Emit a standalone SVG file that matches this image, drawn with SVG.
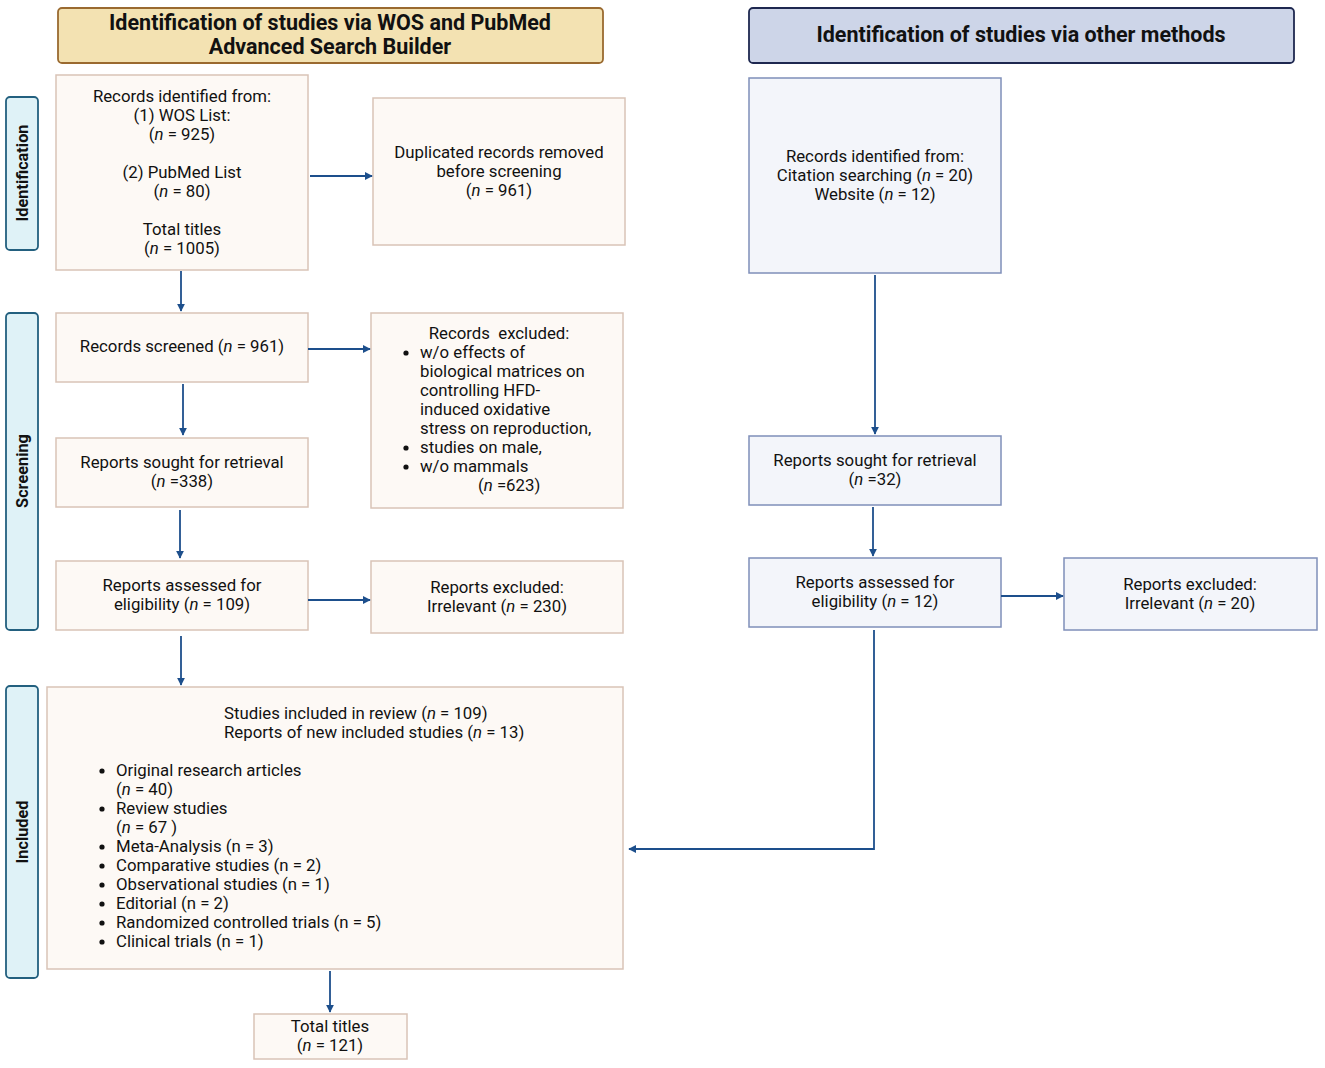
<svg xmlns="http://www.w3.org/2000/svg" width="1325" height="1068" viewBox="0 0 1325 1068">
<defs>
<marker id="ah" viewBox="0 0 10 10" refX="9" refY="5" markerWidth="8" markerHeight="8" markerUnits="userSpaceOnUse" orient="auto">
<path d="M0,0 L10,5 L0,10 z" fill="#1d4f8c"/>
</marker>
<style>
text{font-family:Roboto,"Liberation Sans",sans-serif;font-size:16.8px;fill:#111;}
.c{text-anchor:middle;}
.h{font-weight:bold;font-size:21.5px;text-anchor:middle;}
.s{font-weight:bold;font-size:16.3px;text-anchor:middle;}
.i{font-style:italic;}
.dot{fill:#111;}
.lb{fill:#fdf9f5;stroke:#d9c3b7;stroke-width:1.5;}
.rb{fill:#f3f5fa;stroke:#7f8fb9;stroke-width:1.5;}
.side{fill:#dff2f7;stroke:#23607f;stroke-width:1.8;}
.cn{fill:none;stroke:#1d4f8c;stroke-width:1.8;marker-end:url(#ah);}
</style>
</defs>
<rect width="1325" height="1068" fill="#fff"/>

<g id="header-left">
<rect x="58" y="8" width="545" height="55" rx="4" fill="#f3e2b2" stroke="#9a6a30" stroke-width="1.8"/>
<text class="h" x="330" y="30">Identification of studies via WOS and PubMed</text>
<text class="h" x="330" y="54">Advanced Search Builder</text>
</g>
<g id="header-right">
<rect x="749" y="8" width="545" height="55" rx="4" fill="#cdd5e8" stroke="#1e2850" stroke-width="1.8"/>
<text class="h" x="1021" y="42">Identification of studies via other methods</text>
</g>

<g id="side-identification">
<rect class="side" x="6" y="97" width="32" height="153" rx="4"/>
<text class="s" transform="translate(28,173) rotate(-90)">Identification</text>
</g>
<g id="side-screening">
<rect class="side" x="6" y="313" width="32" height="317" rx="4"/>
<text class="s" transform="translate(28,471) rotate(-90)">Screening</text>
</g>
<g id="side-included">
<rect class="side" x="6" y="686" width="32" height="292" rx="4"/>
<text class="s" transform="translate(28,832) rotate(-90)">Included</text>
</g>

<g id="records-identified">
<rect class="lb" x="56" y="75" width="252" height="195"/>
<text class="c" x="182" y="102">Records identified from:</text>
<text class="c" x="182" y="121">(1) WOS List:</text>
<text class="c" x="182" y="140">(<tspan class="i">n</tspan> = 925)</text>
<text class="c" x="182" y="178">(2) PubMed List</text>
<text class="c" x="182" y="197">(<tspan class="i">n</tspan> = 80)</text>
<text class="c" x="182" y="235">Total titles</text>
<text class="c" x="182" y="254">(<tspan class="i">n</tspan> = 1005)</text>
</g>

<g id="duplicates-removed">
<rect class="lb" x="373" y="98" width="252" height="147"/>
<text class="c" x="499" y="158">Duplicated records removed</text>
<text class="c" x="499" y="177">before screening</text>
<text class="c" x="499" y="196">(<tspan class="i">n</tspan> = 961)</text>
</g>

<g id="records-screened">
<rect class="lb" x="56" y="313" width="252" height="69"/>
<text class="c" x="182" y="352">Records screened (<tspan class="i">n</tspan> = 961)</text>
</g>

<g id="records-excluded">
<rect class="lb" x="371" y="313" width="252" height="195"/>
<text class="c" x="499" y="339" xml:space="preserve">Records  excluded:</text>
<circle class="dot" cx="406" cy="353" r="2.6"/><text x="420" y="358">w/o effects of</text>
<text x="420" y="377">biological matrices on</text>
<text x="420" y="396">controlling HFD-</text>
<text x="420" y="415">induced oxidative</text>
<text x="420" y="434">stress on reproduction,</text>
<circle class="dot" cx="406" cy="448" r="2.6"/><text x="420" y="453">studies on male,</text>
<circle class="dot" cx="406" cy="467" r="2.6"/><text x="420" y="472">w/o mammals</text>
<text x="478" y="491">(<tspan class="i">n</tspan> =623)</text>
</g>

<g id="reports-sought">
<rect class="lb" x="56" y="438" width="252" height="69"/>
<text class="c" x="182" y="468">Reports sought for retrieval</text>
<text class="c" x="182" y="487">(<tspan class="i">n</tspan> =338)</text>
</g>

<g id="reports-assessed">
<rect class="lb" x="56" y="561" width="252" height="69"/>
<text class="c" x="182" y="591">Reports assessed for</text>
<text class="c" x="182" y="610">eligibility (<tspan class="i">n</tspan> = 109)</text>
</g>

<g id="reports-excluded">
<rect class="lb" x="371" y="561" width="252" height="72"/>
<text class="c" x="497" y="593">Reports excluded:</text>
<text class="c" x="497" y="612">Irrelevant (<tspan class="i">n</tspan> = 230)</text>
</g>

<g id="studies-included">
<rect class="lb" x="47" y="687" width="576" height="282"/>
<text x="224" y="719">Studies included in review (<tspan class="i">n</tspan> = 109)</text>
<text x="224" y="738">Reports of new included studies (<tspan class="i">n</tspan> = 13)</text>
<circle class="dot" cx="102" cy="771" r="2.6"/><text x="116" y="776">Original research articles</text>
<text x="116" y="795">(<tspan class="i">n</tspan> = 40)</text>
<circle class="dot" cx="102" cy="809" r="2.6"/><text x="116" y="814">Review studies</text>
<text x="116" y="833">(<tspan class="i">n</tspan> = 67 )</text>
<circle class="dot" cx="102" cy="847" r="2.6"/><text x="116" y="852">Meta-Analysis (n = 3)</text>
<circle class="dot" cx="102" cy="866" r="2.6"/><text x="116" y="871">Comparative studies (n = 2)</text>
<circle class="dot" cx="102" cy="885" r="2.6"/><text x="116" y="890">Observational studies (n = 1)</text>
<circle class="dot" cx="102" cy="904" r="2.6"/><text x="116" y="909">Editorial (n = 2)</text>
<circle class="dot" cx="102" cy="923" r="2.6"/><text x="116" y="928">Randomized controlled trials (n = 5)</text>
<circle class="dot" cx="102" cy="942" r="2.6"/><text x="116" y="947">Clinical trials (n = 1)</text>
</g>

<g id="total-titles">
<rect class="lb" x="254" y="1014" width="153" height="45"/>
<text class="c" x="330" y="1032">Total titles</text>
<text class="c" x="330" y="1051">(<tspan class="i">n</tspan> = 121)</text>
</g>

<g id="other-records">
<rect class="rb" x="749" y="78" width="252" height="195"/>
<text class="c" x="875" y="162">Records identified from:</text>
<text class="c" x="875" y="181">Citation searching (<tspan class="i">n</tspan> = 20)</text>
<text class="c" x="875" y="200">Website (<tspan class="i">n</tspan> = 12)</text>
</g>

<g id="other-sought">
<rect class="rb" x="749" y="436" width="252" height="69"/>
<text class="c" x="875" y="466">Reports sought for retrieval</text>
<text class="c" x="875" y="485">(<tspan class="i">n</tspan> =32)</text>
</g>

<g id="other-assessed">
<rect class="rb" x="749" y="558" width="252" height="69"/>
<text class="c" x="875" y="588">Reports assessed for</text>
<text class="c" x="875" y="607">eligibility (<tspan class="i">n</tspan> = 12)</text>
</g>

<g id="other-excluded">
<rect class="rb" x="1064" y="558" width="253" height="72"/>
<text class="c" x="1190" y="590">Reports excluded:</text>
<text class="c" x="1190" y="609">Irrelevant (<tspan class="i">n</tspan> = 20)</text>
</g>

<g id="connectors">
<line class="cn" x1="181" y1="271" x2="181" y2="311"/>
<line class="cn" x1="310" y1="176" x2="372" y2="176"/>
<line class="cn" x1="183" y1="384" x2="183" y2="435"/>
<line class="cn" x1="308" y1="349" x2="370" y2="349"/>
<line class="cn" x1="180" y1="510" x2="180" y2="558"/>
<line class="cn" x1="308" y1="600" x2="370" y2="600"/>
<line class="cn" x1="181" y1="636" x2="181" y2="685"/>
<line class="cn" x1="330" y1="971" x2="330" y2="1012"/>
<line class="cn" x1="875" y1="275" x2="875" y2="434"/>
<line class="cn" x1="873" y1="507" x2="873" y2="556"/>
<line class="cn" x1="1001" y1="596" x2="1063" y2="596"/>
<polyline class="cn" points="874,630 874,849 629,849"/>
</g>
</svg>
